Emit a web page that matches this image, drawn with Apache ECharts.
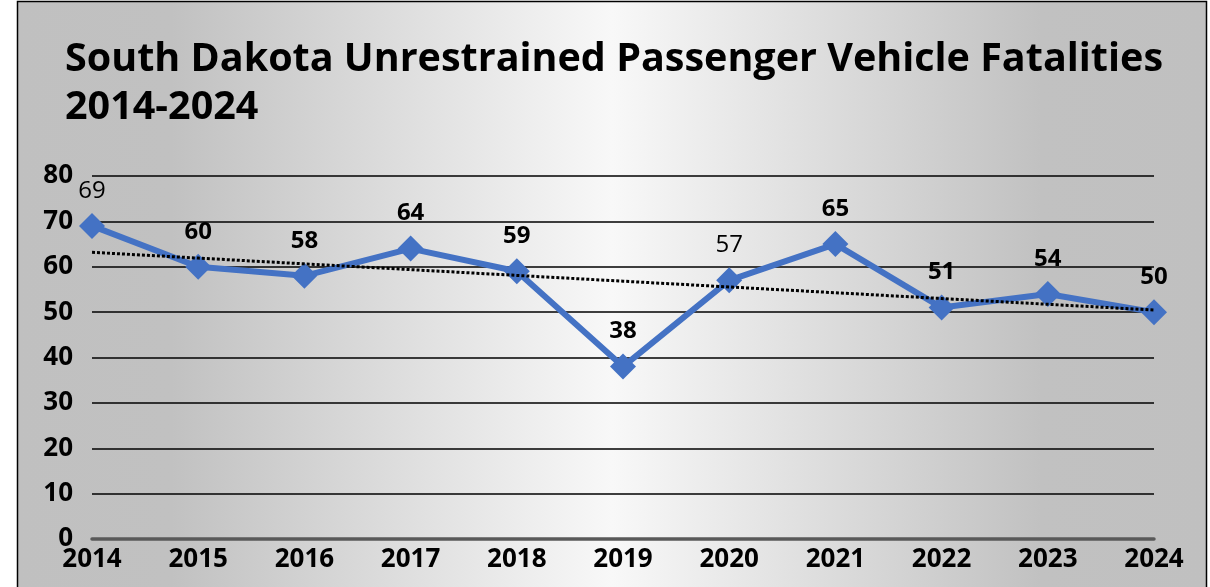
<!DOCTYPE html>
<html>
<head>
<meta charset="utf-8">
<style>
  html, body { margin: 0; padding: 0; background: #fff; }
  #main { width: 1210px; height: 587px; }
</style>
<script src="https://cdn.jsdelivr.net/npm/echarts@6/dist/echarts.min.js"></script>
</head>
<body>
<div id="main"></div>
<script>
// data
const years = ['2014', '2015', '2016', '2017', '2018', '2019', '2020', '2021', '2022', '2023', '2024'];
const fatalities = [69, 60, 58, 64, 59, 38, 57, 65, 51, 54, 50];
// labels that are drawn in normal weight in the original
const lightLabels = ['2014', '2020'];

// linear trendline (least squares) from the series
function linearTrend(values) {
    const n = values.length;
    let sx = 0, sy = 0, sxy = 0, sxx = 0;
    values.forEach((v, i) => { sx += i; sy += v; sxy += i * v; sxx += i * i; });
    const slope = (n * sxy - sx * sy) / (n * sxx - sx * sx);
    const icpt = (sy - slope * sx) / n;
    return values.map((v, i) => +(icpt + slope * i).toFixed(3));
}
const trend = linearTrend(fatalities);

const chart = echarts.init(document.getElementById('main'));
const font = '"Open Sans", Lato, sans-serif';

const option = {
    animation: false,
    backgroundColor: '#ffffff',
    graphic: [
        {
            type: 'rect',
            z: -10,
            silent: true,
            shape: { x: 17.5, y: 1.5, width: 1189, height: 620 },
            style: {
                fill: new echarts.graphic.LinearGradient(0, 0, 1, 0, [
                    { offset: 0, color: '#c0c0c0' },
                    { offset: 0.13, color: '#c1c1c1' },
                    { offset: 0.5, color: '#f8f8f8' },
                    { offset: 0.86, color: '#c1c1c1' },
                    { offset: 1, color: '#c0c0c0' }
                ]),
                stroke: '#000',
                lineWidth: 1.5
            }
        }
    ],
    title: {
        text: 'South Dakota Unrestrained Passenger Vehicle Fatalities\n2014-2024',
        left: 60,
        top: 31,
        textStyle: {
            fontFamily: font,
            fontSize: 39.5,
            fontWeight: 'bold',
            color: '#000',
            lineHeight: 48
        }
    },
    grid: {
        left: 92,
        right: 56,
        top: 176,
        bottom: 48,
        outerBoundsMode: 'none'
    },
    xAxis: {
        type: 'category',
        data: years,
        boundaryGap: false,
        axisLine: { lineStyle: { color: '#595959', width: 3.5 } },
        axisTick: { show: false },
        axisLabel: {
            fontFamily: font,
            fontSize: 26,
            fontWeight: 'bold',
            color: '#000',
            margin: 8
        },
        splitLine: { show: false }
    },
    yAxis: {
        type: 'value',
        min: 0,
        max: 80,
        interval: 10,
        axisLine: { show: false },
        axisTick: { show: false },
        axisLabel: {
            fontFamily: font,
            fontSize: 26,
            fontWeight: 'bold',
            color: '#000',
            margin: 19
        },
        splitLine: { lineStyle: { color: '#000', width: 1.5 } }
    },
    series: [
        {
            name: 'Fatalities',
            type: 'line',
            data: fatalities.map((v, i) => ({
                value: v,
                label: lightLabels.includes(years[i]) ? { fontWeight: 'normal' } : {}
            })),
            symbol: 'diamond',
            symbolSize: 26,
            lineStyle: { color: '#4472C4', width: 6 },
            itemStyle: { color: '#4472C4' },
            label: {
                show: true,
                position: 'top',
                distance: 10,
                fontFamily: font,
                fontSize: 24,
                fontWeight: 'bold',
                color: '#000'
            },
            z: 3
        },
        {
            name: 'Trend',
            type: 'line',
            data: trend,
            showSymbol: false,
            symbol: 'none',
            lineStyle: { color: '#000', width: 3, type: [3, 2] },
            silent: true,
            z: 4
        }
    ]
};

chart.setOption(option);
</script>
</body>
</html>
